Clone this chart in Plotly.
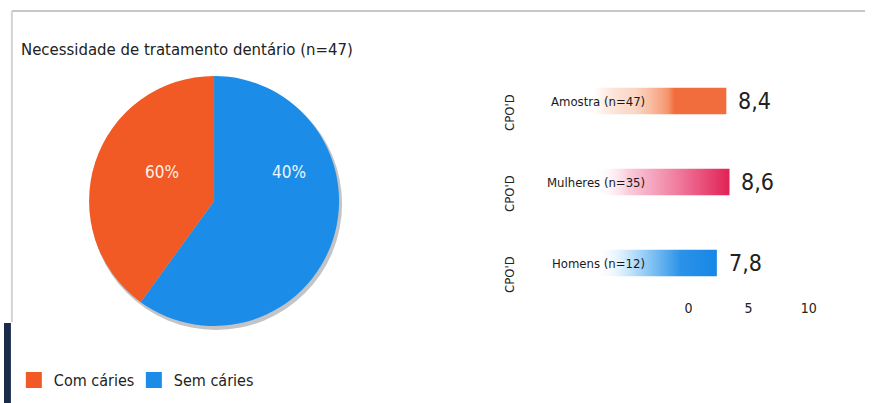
import plotly.graph_objects as go

W, H = 873, 403

# ---- data ----
pie_labels = ["Com cáries", "Sem cáries"]
pie_shares = [40, 60]            # slice sizes as drawn in the picture
pie_printed = ["60%", "40%"]     # percentages printed on the slices
pie_colors = ["#f15a24", "#1b8de8"]

bar_groups = ["Amostra (n=47)", "Mulheres (n=35)", "Homens (n=12)"]
bar_values = [8.4, 8.6, 7.8]
bar_value_text = ["8,4", "8,6", "7,8"]
bar_axis_label = "CPO'D"
scale_ticks = [0, 5, 10]
scale_tick_text = ["0", "5", "10"]

title_text = "Necessidade de tratamento dentário (n=47)"

FONT = "DejaVu Sans Condensed, Liberation Sans Narrow, Roboto Condensed, sans-serif"

def px_x(p):
    return p / W

def px_y(p):
    return 1 - p / H

fig = go.Figure()

# pie shadow
fig.add_trace(go.Pie(
    values=[1], labels=["shadow"], marker=dict(colors=["rgba(60,60,70,0.3)"]),
    domain=dict(x=[px_x(87), px_x(343)], y=[px_y(330), px_y(78)]),
    textinfo="none", hoverinfo="skip", showlegend=False, sort=False,
))

# main pie: drawn clockwise from 12 o'clock, "Sem cáries" first so "Com cáries" sits on the left
fig.add_trace(go.Pie(
    labels=pie_labels[::-1], values=pie_shares[::-1], sort=False, direction="clockwise",
    marker=dict(colors=pie_colors[::-1], line=dict(width=0)),
    domain=dict(x=[px_x(86), px_x(340)], y=[px_y(326), px_y(76)]),
    textinfo="none", hoverinfo="label+value", showlegend=False,
))

# legend entries (square swatches)
for lab, col in zip(pie_labels, pie_colors):
    fig.add_trace(go.Scatter(x=[None], y=[None], mode="markers", name=lab,
                             marker=dict(symbol="square", size=20, color=col),
                             xaxis="x3", yaxis="y3", showlegend=True))

# gradient bars
grad = [
    [[0, "rgba(246,140,100,0)"], [0.3, "rgba(248,190,160,0.6)"], [0.55, "rgba(246,150,110,1)"], [0.6, "#f26d3d"], [1, "#f26d3d"]],
    [[0, "rgba(255,255,255,0)"], [0.25, "rgba(250,205,220,1)"], [0.6, "#f07ea0"], [1, "#e01e52"]],
    [[0, "rgba(255,255,255,0)"], [0.3, "rgba(190,226,250,1)"], [0.7, "#2a92e8"], [1, "#1686e6"]],
]
n = len(bar_groups)
positions = [n - 1 - i for i in range(n)]
half = 0.165
for i, (g, v) in enumerate(zip(bar_groups, bar_values)):
    yc = positions[i]
    fig.add_trace(go.Scatter(
        x=[0, v, v, 0, 0], y=[yc - half, yc - half, yc + half, yc + half, yc - half],
        mode="lines", line=dict(width=0), fill="toself",
        fillgradient=dict(type="horizontal", colorscale=grad[i], start=0, stop=v),
        xaxis="x2", yaxis="y2", hoverinfo="skip", showlegend=False, name=g,
    ))

annotations = [
    dict(text=title_text, x=px_x(15), y=px_y(49), xref="paper", yref="paper",
         xanchor="left", yanchor="middle", showarrow=False, font=dict(size=16.6, color="#222", family=FONT)),
    dict(text=pie_printed[0], x=px_x(141), y=px_y(172), xref="paper", yref="paper",
         showarrow=False, font=dict(size=17, color="#fdf0e8", family=FONT)),
    dict(text=pie_printed[1], x=px_x(270), y=px_y(172), xref="paper", yref="paper",
         showarrow=False, font=dict(size=17, color="#eef6ff", family=FONT)),
]
for i, g in enumerate(bar_groups):
    yc = positions[i]
    annotations.append(dict(text=g, x=3.4, y=yc, xref="x2", yref="y2", xanchor="right",
                            yanchor="middle", showarrow=False, font=dict(size=13, color="#1a1a1a", family=FONT)))
    annotations.append(dict(text=bar_value_text[i], x=bar_values[i], y=yc, xref="x2", yref="y2",
                            xanchor="left", yanchor="middle", xshift=10, showarrow=False,
                            font=dict(size=23, color="#222", family=FONT)))
    annotations.append(dict(text=bar_axis_label, x=px_x(512), y=yc, xref="paper", yref="y2", yshift=-11,
                            textangle=-90, showarrow=False, font=dict(size=13, color="#222", family=FONT)))

shapes = [
    dict(type="line", xref="paper", yref="paper", x0=px_x(8), x1=1, y0=px_y(11), y1=px_y(11),
         line=dict(color="#c4c8cc", width=2)),
    dict(type="line", xref="paper", yref="paper", x0=px_x(8), x1=px_x(8), y0=px_y(11), y1=px_y(322),
         line=dict(color="#d0d4d8", width=2)),
    dict(type="rect", xref="paper", yref="paper", x0=0, x1=px_x(7), y0=0, y1=px_y(323),
         fillcolor="#1b2a48", line=dict(width=0)),
]

fig.update_layout(
    width=W, height=H, margin=dict(l=0, r=0, t=0, b=0),
    paper_bgcolor="white", plot_bgcolor="rgba(0,0,0,0)",
    font=dict(family=FONT),
    showlegend=True,
    legend=dict(orientation="h", x=px_x(10), y=px_y(380), xanchor="left", yanchor="middle",
                font=dict(size=16, color="#222", family=FONT), itemclick=False, traceorder="normal",
                itemsizing="trace", bgcolor="rgba(0,0,0,0)", entrywidth=75, entrywidthmode="pixels"),
    xaxis2=dict(domain=[px_x(598), px_x(790)], range=[0, 12], anchor="y2", visible=False),
    yaxis2=dict(domain=[px_y(303.5), px_y(60.5)], range=[-0.5, 2.5], anchor="x2", visible=False),
    xaxis3=dict(domain=[px_x(694), px_x(816)], range=[0, 10], anchor="y3", tickvals=scale_ticks,
                ticktext=scale_tick_text, showgrid=False, zeroline=False, showline=False, ticks="",
                tickfont=dict(size=14, color="#222", family=FONT)),
    yaxis3=dict(domain=[px_y(298), px_y(290)], anchor="x3", visible=False),
    annotations=annotations, shapes=shapes,
)

fig.write_html("out.html", config={"displayModeBar": False},
               post_script="document.body.style.margin='0px';")
